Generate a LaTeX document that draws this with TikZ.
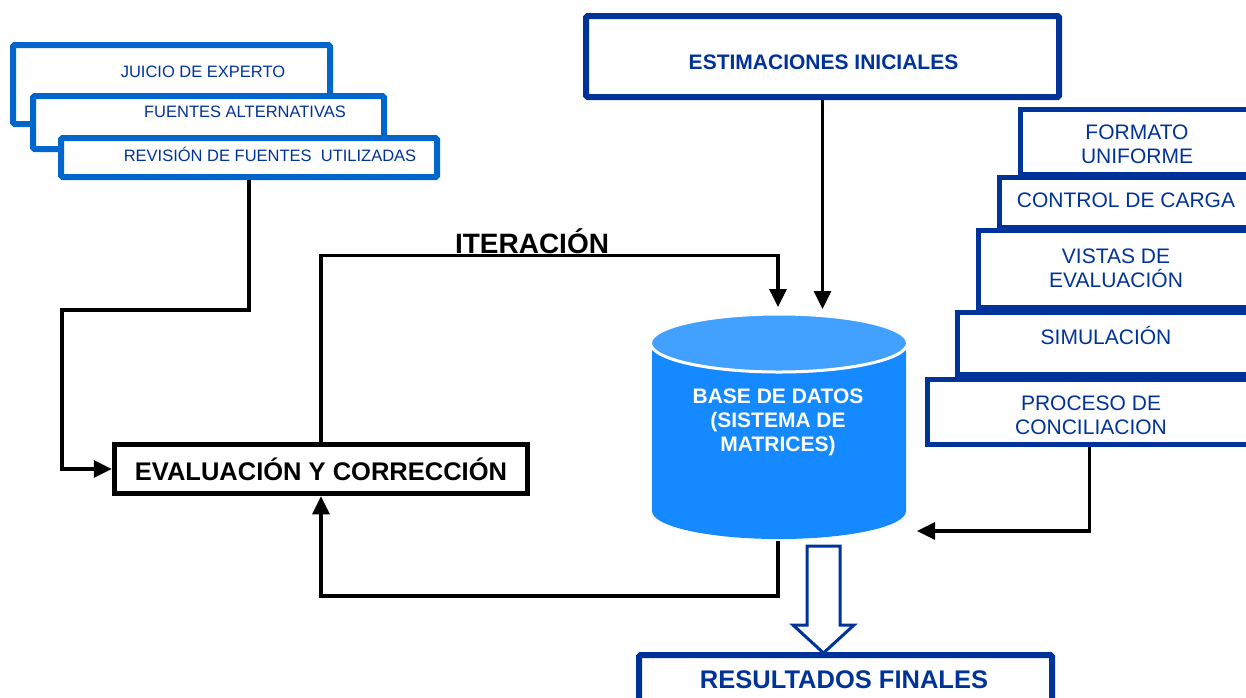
\documentclass[tikz,border=0pt]{standalone}
\usepackage{fontspec}
\setmainfont{Liberation Sans}
\usepackage{tikz}
\usetikzlibrary{arrows.meta, calc, positioning}
\definecolor{lblue}{HTML}{0066CC}
\definecolor{dblue}{HTML}{003399}
\definecolor{dbtop}{HTML}{42A0FF}
\definecolor{dbbody}{HTML}{1589FF}
\tikzset{>={Triangle[length=18pt,width=17pt]}}
\tikzset{
  lbox/.style={draw=lblue, line width=6pt, fill=white, rounded corners=1.5pt},
  ltext/.style={text=dblue, font=\fontsize{16.5}{18}\selectfont},
  rbox/.style={draw=dblue, line width=5pt, fill=white},
  rtext/.style={align=center, text=dblue, font=\fontsize{21}{24}\selectfont},
  bbox/.style={draw=dblue, line width=6pt, fill=white, rounded corners=1.5pt},
  btext/.style={text=dblue, font=\bfseries\fontsize{21}{24}\selectfont},
  conn/.style={line width=3.3pt},
}

\begin{document}
\begin{tikzpicture}[x=1pt,y=-1pt]
\useasboundingbox (0,0) rectangle (1246,697);
% fuentes (left stack)
\node[lbox, minimum width=317pt, minimum height=79pt] (juicio) at (171.5,84.5) {};
\node[ltext] (juicio-t) at (203,72) {JUICIO DE EXPERTO};
\node[lbox, minimum width=351pt, minimum height=53pt] (alt) at (208.5,122.5) {};
\node[ltext] (alt-t) at (245,112) {FUENTES ALTERNATIVAS};
\node[lbox, minimum width=376pt, minimum height=39pt] (rev) at (249,157.5) {};
\node[ltext] (rev-t) at (270,154) {REVISIÓN DE FUENTES\ \ UTILIZADAS};
% estimaciones
\node[bbox, minimum width=473pt, minimum height=81pt] (estim) at (822.5,56.5) {};
\node[btext] (estim-t) at (823.5,62.5) {ESTIMACIONES INICIALES};
% procesos (right stack)
\node[rbox, minimum width=231.5pt, minimum height=65pt] (formato) at (1136.25,142) {};
\node[rtext] (formato-t) at (1137,144.5) {FORMATO\\UNIFORME};
\node[rbox, minimum width=252.5pt, minimum height=50pt] (carga) at (1125.75,202.5) {};
\node[rtext] (carga-t) at (1126,200.5) {CONTROL DE CARGA};
\node[rbox, minimum width=273.5pt, minimum height=77pt] (vistas) at (1115.25,269) {};
\node[rtext] (vistas-t) at (1116,268) {VISTAS DE\\EVALUACIÓN};
\node[rbox, minimum width=294.5pt, minimum height=62pt] (simul) at (1104.75,343.5) {};
\node[rtext] (simul-t) at (1106,335) {SIMULACIÓN};
\node[rbox, minimum width=324.5pt, minimum height=65pt] (proc) at (1089.75,412) {};
\node[rtext] (proc-t) at (1091,415.5) {PROCESO DE\\CONCILIACION};
% base de datos
\fill[dbbody] (652,343) -- (652,511) arc[start angle=180, end angle=0, x radius=127, y radius=28] -- (906,343) -- cycle;
\filldraw[fill=dbtop, draw=white, line width=3pt] (779,343) ellipse[x radius=128.5, y radius=29];
\node[text=white, align=center, font=\bfseries\fontsize{21}{24}\selectfont] (db) at (778,422) {BASE DE DATOS\\(SISTEMA DE\\MATRICES)};
\coordinate (itend) at (778,307);
\coordinate (dbin) at (822.5,309);
\coordinate (dbout) at (778,541);
\coordinate (dbright) at (917,531);
% evaluacion
\node[draw, line width=5.5pt, fill=white, minimum width=413pt, minimum height=49pt,
  font=\bfseries\fontsize{25.5}{28}\selectfont] (eval) at (321,469) {EVALUACIÓN Y CORRECCIÓN};
\node[font=\bfseries\fontsize{28}{30}\selectfont] (iter) at (532,241) {ITERACIÓN};
% conexiones
\draw[conn,->] (rev.south) |- (62,310) |- (eval.west);
\draw[conn,->] (eval.north) -- ++(0,-186) -| (itend);
\draw[conn,->] (estim.south) -- (dbin);
\draw[conn,->] (dbout) -- ++(0,55) -| (eval.south);
\draw[conn,->] (proc.south) |- (dbright);
% resultados
\draw[dblue, line width=3pt, fill=white] (807,546) -- (807,625) -- (793,625) -- (823.5,653)
  -- (854,625) -- (840,625) -- (840,546) -- cycle;
\node[bbox, minimum width=413pt, minimum height=55pt] (result) at (845.5,682.5) {};
\node[btext, font=\bfseries\fontsize{25.5}{28}\selectfont] (result-t) at (844,679.5) {RESULTADOS FINALES};
\end{tikzpicture}
\end{document}
